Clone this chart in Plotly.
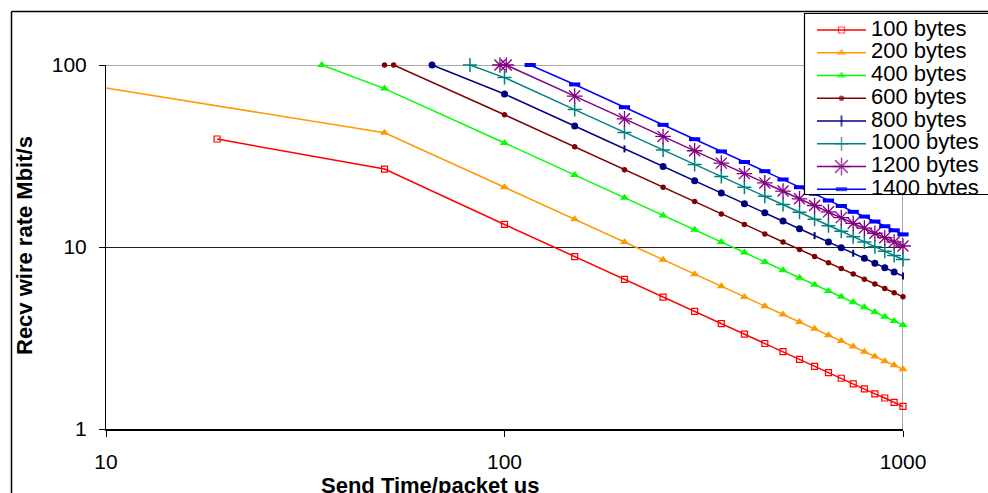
import plotly.graph_objects as go

W, H = 988, 493

# ---------------- data ----------------
names = ["100 bytes", "200 bytes", "400 bytes", "600 bytes",
         "800 bytes", "1000 bytes", "1200 bytes", "1400 bytes"]

x_tail = [150, 200, 250, 300, 350, 400, 450, 500, 550, 600,
          650, 700, 750, 800, 850, 900, 950, 1000]

x_100 = [19, 50, 100] + x_tail
y_100 = [39.2, 26.8, 13.3, 8.85, 6.64, 5.31, 4.43, 3.79, 3.32, 2.95, 2.66,
         2.41, 2.21, 2.04, 1.90, 1.77, 1.66, 1.56, 1.48, 1.40, 1.33]

x_200 = [9.7, 50, 100] + x_tail
y_200 = [75.6, 42.4, 21.3, 14.19, 10.64, 8.51, 7.09, 6.08, 5.32, 4.73, 4.26,
         3.87, 3.55, 3.27, 3.04, 2.84, 2.66, 2.50, 2.36, 2.24, 2.13]

x_400 = [34.8, 50, 100] + x_tail
y_400 = [100, 74.2, 37.3, 24.85, 18.64, 14.91, 12.43, 10.65, 9.32, 8.28, 7.46,
         6.78, 6.21, 5.74, 5.33, 4.97, 4.66, 4.39, 4.14, 3.92, 3.73]

x_600 = [50, 52.7, 100] + x_tail
y_600 = [100, 100, 53.3, 35.5, 26.6, 21.3, 17.8, 15.2, 13.3, 11.8, 10.66,
         9.69, 8.88, 8.20, 7.61, 7.10, 6.66, 6.27, 5.92, 5.61, 5.33]

x_800 = [65.8, 100] + x_tail
y_800 = [100, 69.3, 46.2, 34.6, 27.7, 23.1, 19.8, 17.3, 15.4, 13.9, 12.6,
         11.55, 10.66, 9.90, 9.24, 8.66, 8.15, 7.70, 7.29, 6.93]

x_1000 = [81.9, 100] + x_tail
y_1000 = [100, 85.3, 56.9, 42.6, 34.1, 28.4, 24.4, 21.3, 19.0, 17.1, 15.5,
          14.2, 13.1, 12.2, 11.4, 10.66, 10.03, 9.48, 8.98, 8.53]

x_1200 = [97.4, 101] + x_tail
y_1200 = [100, 100, 67.5, 50.6, 40.5, 33.8, 28.9, 25.3, 22.5, 20.3, 18.4,
          16.9, 15.6, 14.5, 13.5, 12.7, 11.9, 11.25, 10.66, 10.13]

x_1400 = [116] + x_tail
y_1400 = [100, 78.2, 58.6, 46.9, 39.1, 33.5, 29.3, 26.1, 23.5, 21.3, 19.6,
          18.0, 16.8, 15.6, 14.7, 13.8, 13.0, 12.35, 11.73]

x_ticks = [10, 100, 1000]
x_ticktext = ["10", "100", "1000"]
y_ticks = [1, 10, 100]
y_ticktext = ["1", "10", "100"]

# ---------------- styles ----------------
colors = ["#FF0000", "#FF9900", "#00FF00", "#800000",
          "#000080", "#008080", "#800080", "#0000FF"]

FONT = "Liberation Sans, Arial, sans-serif"

def pxx(x):
    return x / W

def pxy(y):
    return 1 - y / H

sym_800 = ["circle", "circle", "circle", "line-ns", "circle", "circle", "circle",
           "circle", "circle", "circle", "circle", "line-ns", "circle", "circle",
           "line-ns", "circle", "circle", "circle", "circle", "line-ns"]

markers = [
    dict(symbol="square-open", size=6, color=colors[0], line=dict(color=colors[0], width=1.2)),
    dict(symbol="triangle-up", size=8, color=colors[1], line=dict(width=0)),
    dict(symbol="triangle-up", size=8, color=colors[2], line=dict(width=0)),
    dict(symbol="circle", size=5.5, color=colors[3], line=dict(width=0)),
    dict(symbol=sym_800, size=5, color=colors[4], line=dict(color=colors[4], width=2)),
    dict(symbol="cross-thin", size=10, color=colors[5], line=dict(color=colors[5], width=1.5)),
    dict(symbol="asterisk", size=13, color=colors[6], line=dict(color=colors[6], width=1.3)),
    dict(symbol="line-ew", size=8, color=colors[7], line=dict(color=colors[7], width=4)),
]

legend_markers = [dict(m) for m in markers]
legend_markers[4] = dict(symbol="line-ns", size=8, color=colors[4], line=dict(color=colors[4], width=2))
legend_markers[6] = dict(symbol="asterisk", size=15, color=colors[6], line=dict(color=colors[6], width=1.5))

series = [(x_100, y_100), (x_200, y_200), (x_400, y_400), (x_600, y_600),
          (x_800, y_800), (x_1000, y_1000), (x_1200, y_1200), (x_1400, y_1400)]

fig = go.Figure()

for (xs, ys), name, col, mk in zip(series, names, colors, markers):
    fig.add_trace(go.Scatter(
        x=xs, y=ys, name=name, mode="lines+markers",
        line=dict(color=col, width=1.5), marker=mk,
        cliponaxis=False, showlegend=False, xaxis="x", yaxis="y",
        hoverinfo="skip"))

# ---------------- legend (drawn in its own clipped subplot) ----------------
leg_rows = [30, 52.7, 75.5, 98.2, 121, 143.7, 166.5, 189.2]
for name, col, mk, yc in zip(names, colors, legend_markers, leg_rows):
    m = dict(mk)
    m["size"] = [0, mk["size"], 0]
    fig.add_trace(go.Scatter(
        x=[817, 841.5, 866], y=[yc, yc, yc], mode="lines+markers",
        line=dict(color=col, width=1.5), marker=m,
        showlegend=False, xaxis="x3", yaxis="y3", hoverinfo="skip"))

fig.add_trace(go.Scatter(
    x=[871] * len(names), y=leg_rows, mode="text", text=names,
    textposition="middle right",
    textfont=dict(family=FONT, size=22, color="black"),
    cliponaxis=True, showlegend=False, xaxis="x3", yaxis="y3", hoverinfo="skip"))

fig.update_layout(
    width=W, height=H,
    margin=dict(l=0, r=0, t=0, b=0, autoexpand=False),
    paper_bgcolor="white", plot_bgcolor="white",
    font=dict(family=FONT, size=21, color="black"),
    showlegend=False,
    xaxis=dict(
        type="log", range=[1, 3], domain=[pxx(106), pxx(903)], anchor="y",
        showline=True, linecolor="black", linewidth=2,
        tickmode="array", tickvals=x_ticks, ticktext=x_ticktext,
        ticks="outside", ticklen=6, tickwidth=1, tickcolor="black",
        showgrid=False, zeroline=False,
        tickfont=dict(family=FONT, size=21, color="black"),
        ticklabelstandoff=7, fixedrange=True),
    yaxis=dict(
        type="log", range=[0, 2], domain=[pxy(429), pxy(65)], anchor="x",
        showline=True, linecolor="black", linewidth=1,
        tickmode="array", tickvals=y_ticks, ticktext=y_ticktext,
        ticks="outside", ticklen=6, tickwidth=1, tickcolor="black",
        showgrid=True, gridcolor="#202020", gridwidth=1, zeroline=False,
        tickfont=dict(family=FONT, size=21, color="black"),
        ticklabelstandoff=8, fixedrange=True),
    xaxis3=dict(domain=[pxx(804.5), 1], range=[804.5, 988], anchor="y3",
                visible=False, fixedrange=True),
    yaxis3=dict(domain=[pxy(195), pxy(13)], range=[195, 13], anchor="x3",
                visible=False, fixedrange=True),
)

shapes = [
    # gray plot-area border, top and right (data coordinates)
    dict(type="line", xref="x", yref="y", x0=10, x1=1000, y0=100, y1=100,
         line=dict(color="#8c8c8c", width=1.5), layer="below"),
    dict(type="line", xref="x", yref="y", x0=1000, x1=1000, y0=1, y1=100,
         line=dict(color="#8c8c8c", width=1.5), layer="below"),
    # outer chart border
    dict(type="line", xref="paper", yref="paper", x0=pxx(11.5), x1=pxx(11.5),
         y0=-0.05, y1=pxy(11.5), line=dict(color="black", width=1.5), layer="above"),
    dict(type="line", xref="paper", yref="paper", x0=pxx(11.5), x1=1.05,
         y0=pxy(11.5), y1=pxy(11.5), line=dict(color="black", width=1.5), layer="above"),
    # legend box
    dict(type="rect", xref="paper", yref="paper", x0=pxx(804.5), x1=1.05,
         y0=pxy(194.5), y1=pxy(13.5), line=dict(color="black", width=1.2),
         fillcolor="rgba(0,0,0,0)", layer="above"),
]
fig.update_layout(shapes=shapes)

fig.add_annotation(
    text="<b>Send Time/packet us</b>", xref="paper", yref="paper",
    x=pxx(430), y=pxy(485), xanchor="center", yanchor="middle",
    showarrow=False, font=dict(family=FONT, size=22, color="black"))
fig.add_annotation(
    text="<b>Recv wire rate Mbit/s</b>", xref="paper", yref="paper",
    x=pxx(25), y=pxy(246), xanchor="center", yanchor="middle", textangle=-90,
    showarrow=False, font=dict(family=FONT, size=22, color="black"))

fig.write_html("out.html", config={"displayModeBar": False})
